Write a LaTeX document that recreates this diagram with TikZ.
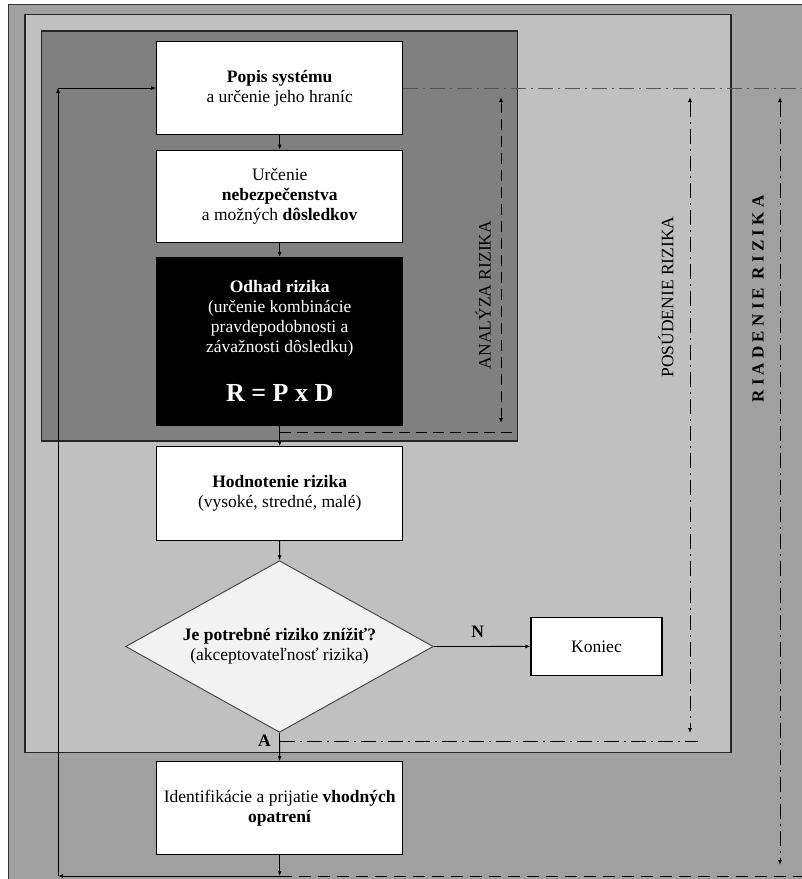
\documentclass[tikz,border=0pt]{standalone}
\usepackage{fontspec}
\setmainfont{Liberation Serif}
\usetikzlibrary{shapes.geometric,arrows.meta}
\definecolor{outerg}{HTML}{A0A0A0}
\definecolor{lightg}{HTML}{C0C0C0}
\definecolor{darkg}{HTML}{808080}
\definecolor{diamf}{HTML}{F2F2F2}
\definecolor{dashg}{HTML}{555555}
\begin{document}
\begin{tikzpicture}[x=1pt,y=-1pt,
  fnt/.style={font=\fontsize{17.5}{20}\selectfont},
  stepbox/.style={draw=black, line width=1.1pt, fill=white, minimum width=246pt, inner sep=0pt, align=center, fnt},
  regionbox/.style={draw=black!85, line width=1.3pt},
  arr/.style={line width=0.9pt, -{Latex[length=5pt,width=4pt]}},
  dasharr/.style={line width=1pt, dash pattern=on 11pt off 6pt},
  dotarr/.style={line width=1pt, dash pattern=on 15pt off 5pt on 2pt off 5pt},
  tiny/.style={{Latex[length=5pt,width=4pt]}-{Latex[length=5pt,width=4pt]}},
  lbl/.style={font=\fontsize{17.5}{20}\selectfont\bfseries, inner sep=0pt}]
\useasboundingbox (0,0) rectangle (802,879);
\fill[white] (0,0) rectangle (802,879);
% regions
\filldraw[fill=outerg, draw=black!80, line width=1.3pt] (8.3,4.7) rectangle (815,895);
\draw[black!30, line width=0.8pt, dash pattern=on 1pt off 1pt] (27,756) -- (734,756) -- (734,16);
\filldraw[fill=lightg, regionbox] (25,14.3) rectangle (731,752.5);
\filldraw[fill=darkg, regionbox] (41.3,31) rectangle (517.7,441);
% coordinates
\coordinate (cBR) at (279.7,876);
\coordinate (cBL) at (58,876);
\coordinate (cTL) at (58,88);
\coordinate (tR) at (802,88);
\coordinate (aTop) at (501,97);
\coordinate (aBot) at (501,423);
\coordinate (aH1) at (279.7,432);
\coordinate (aH2) at (513,432);
\coordinate (pTop) at (690,97);
\coordinate (pBot) at (690,733);
\coordinate (pH1) at (279.7,741);
\coordinate (pH2) at (698,741);
\coordinate (rTop) at (780,97);
\coordinate (rBot) at (780,865);
\coordinate (rH2) at (802,876);
% nodes
\node[stepbox, minimum height=92.6pt] (b1) at (279.7,88) {\textbf{Popis systému}\\a určenie jeho hraníc};
\node[stepbox, minimum height=92.3pt] (b2) at (279.7,196.2) {Určenie\\\textbf{nebezpečenstva}\\a možných \textbf{dôsledkov}};
\node[stepbox, minimum height=167.7pt, fill=black, text=white] (b3) at (279.7,341.2)
  {\textbf{Odhad rizika}\\(určenie kombinácie\\pravdepodobnosti a\\závažnosti dôsledku)\\[27pt]{\fontsize{26}{20}\selectfont\bfseries R = P x D}};
\node[stepbox, minimum height=93.3pt] (b4) at (279.7,493.4) {\textbf{Hodnotenie rizika}\\(vysoké, stredné, malé)};
\node[diamond, draw=black!75, line width=0.9pt, fill=diamf, aspect=1.79, minimum width=307.6pt, minimum height=171.6pt, inner sep=0pt, align=center, fnt] (dec) at (279.5,646.5)
  {\textbf{Je potrebné riziko znížiť?}\\(akceptovateľnosť rizika)};
\node[stepbox, minimum width=131pt, minimum height=57.3pt] (kon) at (596.5,646.4) {Koniec};
\node[stepbox, minimum height=92.3pt] (b5) at (279.7,807.9) {Identifikácie a prijatie \textbf{vhodných}\\\textbf{opatrení}};
% side labels
\node[fnt, rotate=90] (lanal) at (483,295) {ANALÝZA RIZIKA};
\node[fnt, rotate=90] (lpos) at (666,297) {POSÚDENIE RIZIKA};
\node[font=\fontsize{17}{20}\selectfont\bfseries\addfontfeature{LetterSpace=25}, rotate=90] (lriad) at (758,299) {RIADENIE RIZIKA};
% main connectors
\draw[arr] (b1) -- (b2);
\draw[arr] (b2) -- (b3);
\draw[arr] (b3) -- (b4);
\draw[arr] (b4) -- (dec);
\draw[arr] (dec.east) -- (kon.west);
\draw[arr] (dec.south) -- (b5.north);
\node[lbl] (nN) at (477.7,632) {N};
\node[lbl] (nA) at (264.5,741) {A};
% loop back
\draw[arr] (b5.south) -- (cBR);
\draw[arr] (cBR) -- (cBL);
\draw[arr] (cBL) -- (cTL);
\draw[arr] (cTL) -- (b1.west);
% analysis bracket
\draw[dotarr, draw=dashg, line width=0.8pt] (b1.east) -- (tR);
\draw[dasharr, tiny] (aTop) -- (aBot);
\draw[dasharr] (aH1) -- (aH2);
% assessment bracket
\draw[dotarr, tiny] (pTop) -- (pBot);
\draw[dotarr] (pH1) -- (pH2);
% management bracket
\draw[dotarr, tiny] (rTop) -- (rBot);
\draw[dasharr, dash pattern=on 12pt off 7pt] (cBR) -- (rH2);
\end{tikzpicture}
\end{document}
